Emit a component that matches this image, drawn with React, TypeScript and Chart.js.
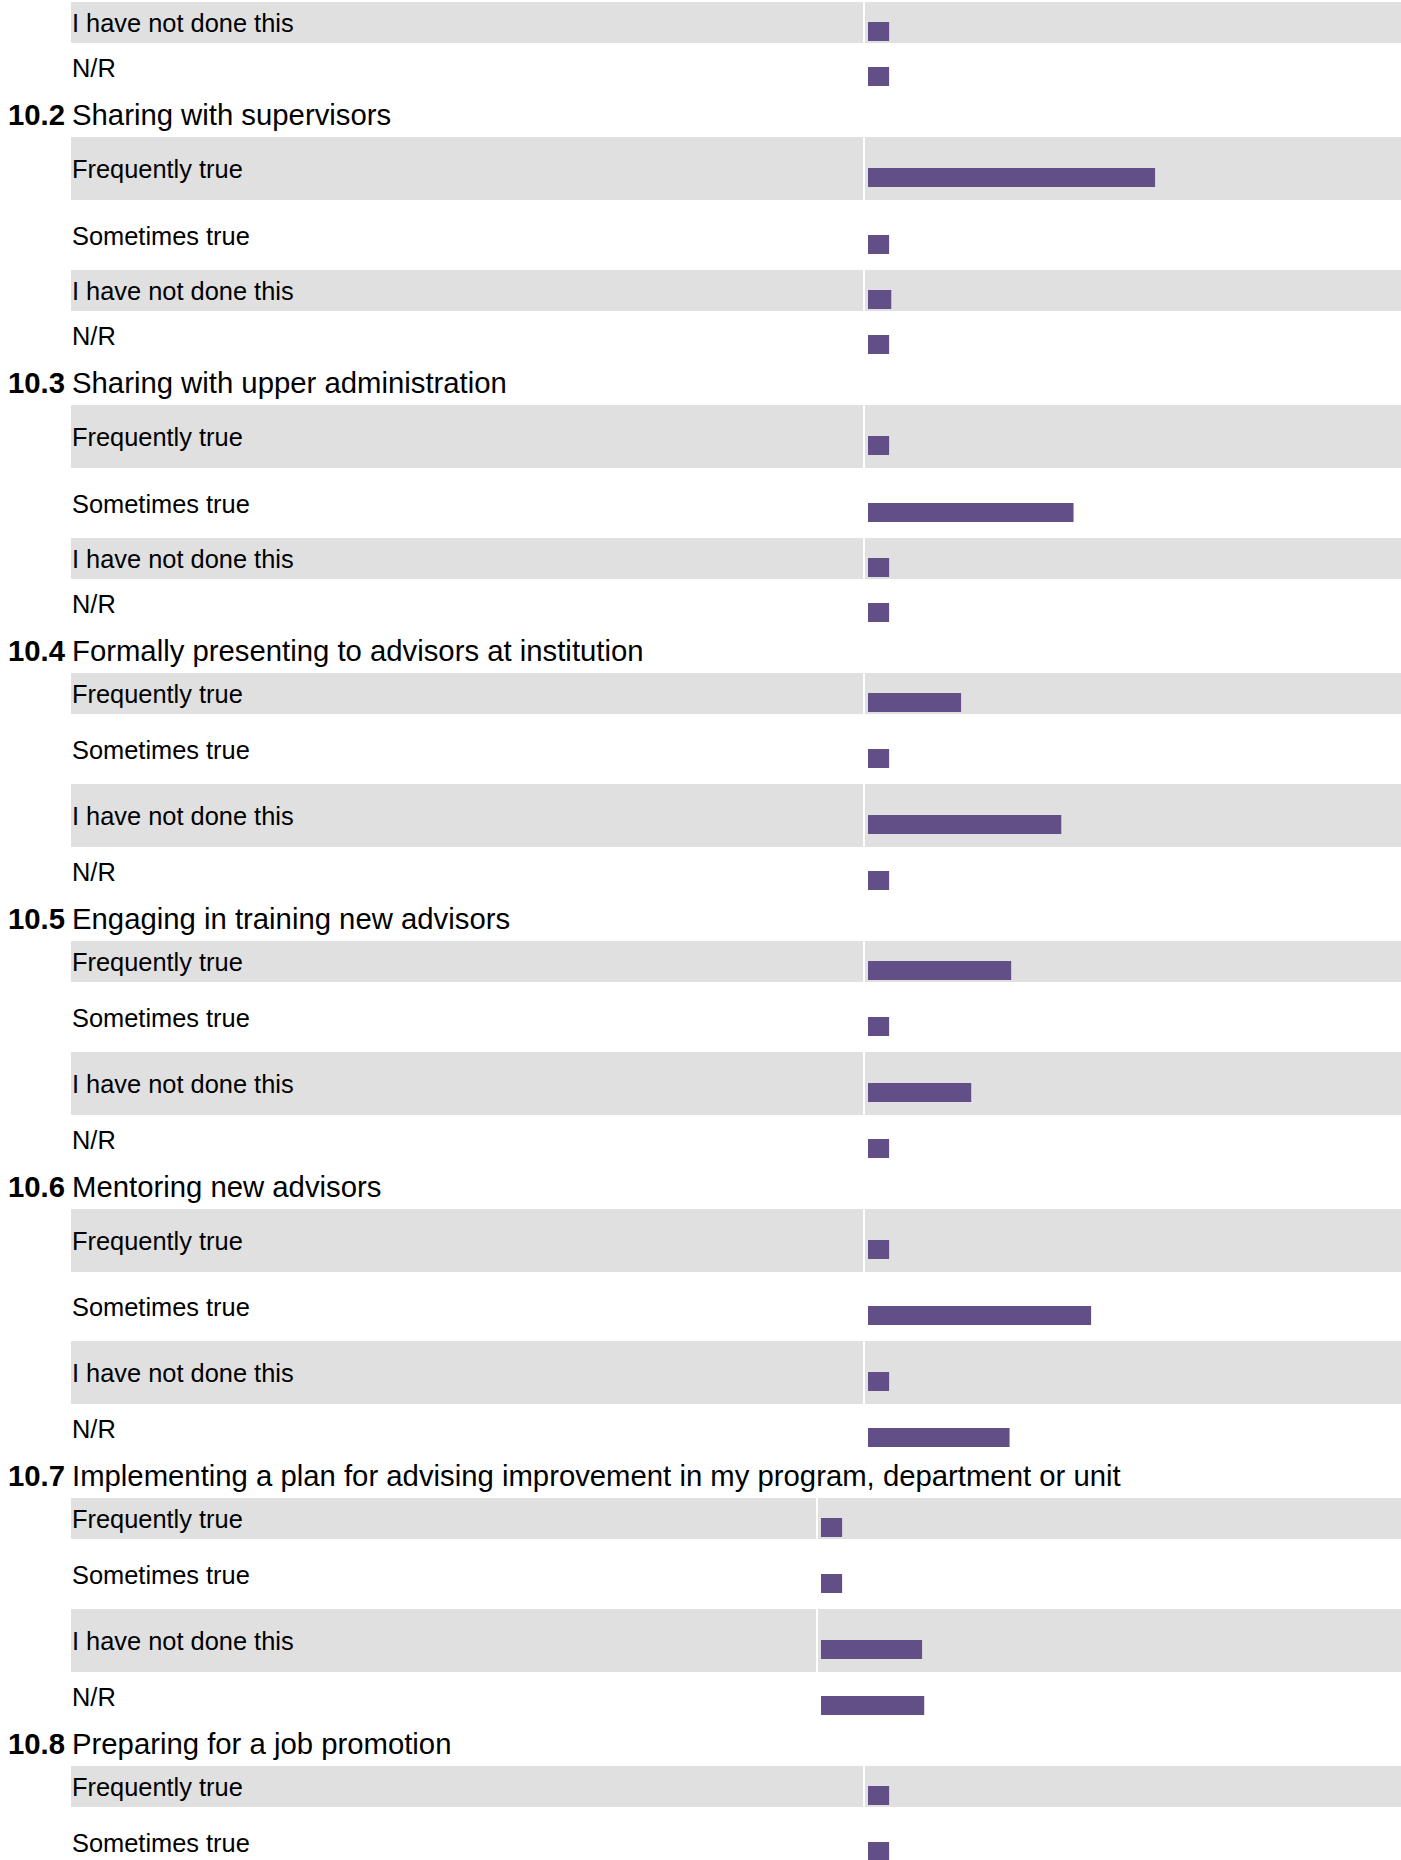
import React, { useEffect, useRef } from "react";
import { Chart, registerables } from "chart.js";

Chart.register(...registerables);

// ---------- data ----------
const answerLabels = ["Frequently true", "Sometimes true", "I have not done this", "N/R"];

const questionNumbers = ["10.1", "10.2", "10.3", "10.4", "10.5", "10.6", "10.7", "10.8"];

const questionTitles = [
  "", // title of 10.1 lies above the visible part
  "Sharing with supervisors",
  "Sharing with upper administration",
  "Formally presenting to advisors at institution",
  "Engaging in training new advisors",
  "Mentoring new advisors",
  "Implementing a plan for advising improvement in my program, department or unit",
  "Preparing for a job promotion",
];

// values in % of the bar scale (null = row not visible in the picture)
const q10_1 = [null, null, 3.9, 3.9];
const q10_2 = [53.8, 3.9, 4.3, 3.9];
const q10_3 = [3.9, 38.5, 3.9, 3.9];
const q10_4 = [17.4, 3.9, 36.2, 3.9];
const q10_5 = [26.8, 3.9, 19.3, 3.9];
const q10_6 = [3.9, 41.8, 3.9, 26.5];
const q10_7 = [3.9, 3.9, 18.9, 19.3];
const q10_8 = [3.9, 3.9, null, null];

const seriesValues: (number | null)[][] = [q10_1, q10_2, q10_3, q10_4, q10_5, q10_6, q10_7, q10_8];

const X_MAX = 100;

// ---------- layout / style ----------
const rowHeights = [
  [0, 0, 41, 44],
  [63, 66, 41, 44],
  [63, 66, 41, 44],
  [41, 66, 63, 44],
  [41, 66, 63, 44],
  [63, 65, 63, 44],
  [41, 66, 63, 44],
  [41, 66, 0, 0],
];
const dividerX = [863, 863, 863, 863, 863, 863, 816, 863];

const PAGE_W = 1401;
const PAGE_H = 1860;
const GAP = 2;
const HEADER_H = 44;
const LABEL_X = 71;
const BAR_W = 533;
const BAR_H = 19;
const GRAY = "#e0e0e0";
const BAR_COLOR = "#634f87";
const FONT = '"Liberation Sans", Arial, Helvetica, sans-serif';

function BarCanvas({ value, label }: { value: number; label: string }) {
  const ref = useRef<HTMLCanvasElement | null>(null);
  useEffect(() => {
    if (!ref.current) return;
    const chart = new Chart(ref.current, {
      type: "bar",
      data: {
        labels: [label],
        datasets: [
          {
            data: [value],
            backgroundColor: BAR_COLOR,
            borderWidth: 0,
            barPercentage: 1,
            categoryPercentage: 1,
          },
        ],
      },
      options: {
        indexAxis: "y",
        responsive: false,
        animation: false,
        events: [],
        layout: { padding: 0 },
        plugins: { legend: { display: false }, tooltip: { enabled: false } },
        scales: {
          x: { display: false, min: 0, max: X_MAX },
          y: { display: false },
        },
      },
    });
    return () => chart.destroy();
  }, [value, label]);
  return <canvas ref={ref} width={BAR_W} height={BAR_H} style={{ display: "block", width: BAR_W, height: BAR_H }} />;
}

function Header({ num, title }: { num: string; title: string }) {
  return (
    <div style={{ position: "relative", flexShrink: 0, height: HEADER_H, fontFamily: FONT, fontSize: 29.3, lineHeight: HEADER_H + "px", color: "#000", whiteSpace: "nowrap" }}>
      <span style={{ position: "absolute", left: 8, top: 2, fontWeight: "bold" }}>{num}</span>
      <span style={{ position: "absolute", left: LABEL_X + 1, top: 2 }}>{title}</span>
    </div>
  );
}

function Row({ label, value, height, divider, shaded }: { label: string; value: number; height: number; divider: number; shaded: boolean }) {
  const bg = shaded ? GRAY : "transparent";
  return (
    <div style={{ display: "flex", flexShrink: 0, height, columnGap: GAP }}>
      <div
        style={{
          marginLeft: LABEL_X,
          width: divider - LABEL_X,
          boxSizing: "border-box",
          paddingLeft: 1,
          background: bg,
          fontFamily: FONT,
          fontSize: 25.4,
          color: "#000",
          whiteSpace: "nowrap",
        }}
      >
        <div style={{ position: "relative", top: 1, lineHeight: height + "px" }}>{label}</div>
      </div>
      <div style={{ position: "relative", flex: 1, background: bg }}>
        <div style={{ position: "absolute", left: 3, top: Math.floor(height / 2) }}>
          <BarCanvas value={value} label={label} />
        </div>
      </div>
    </div>
  );
}

export default function App() {
  useEffect(() => {
    document.documentElement.style.overflow = "hidden";
  }, []);

  const blocks: React.ReactNode[] = [];
  questionNumbers.forEach((num, qi) => {
    if (questionTitles[qi]) {
      blocks.push(<Header key={"h" + qi} num={num} title={questionTitles[qi]} />);
    }
    seriesValues[qi].forEach((v, ri) => {
      if (v === null) return;
      blocks.push(
        <Row
          key={"r" + qi + "-" + ri}
          label={answerLabels[ri]}
          value={v}
          height={rowHeights[qi][ri]}
          divider={dividerX[qi]}
          shaded={ri === 0 || ri === 2}
        />
      );
    });
  });

  return (
    <div
      style={{
        position: "absolute",
        left: 0,
        top: 0,
        width: PAGE_W,
        height: PAGE_H,
        overflow: "hidden",
        background: "#fff",
        boxSizing: "border-box",
        paddingTop: 2,
        display: "flex",
        flexDirection: "column",
        rowGap: GAP,
      }}
    >
      {blocks}
    </div>
  );
}
